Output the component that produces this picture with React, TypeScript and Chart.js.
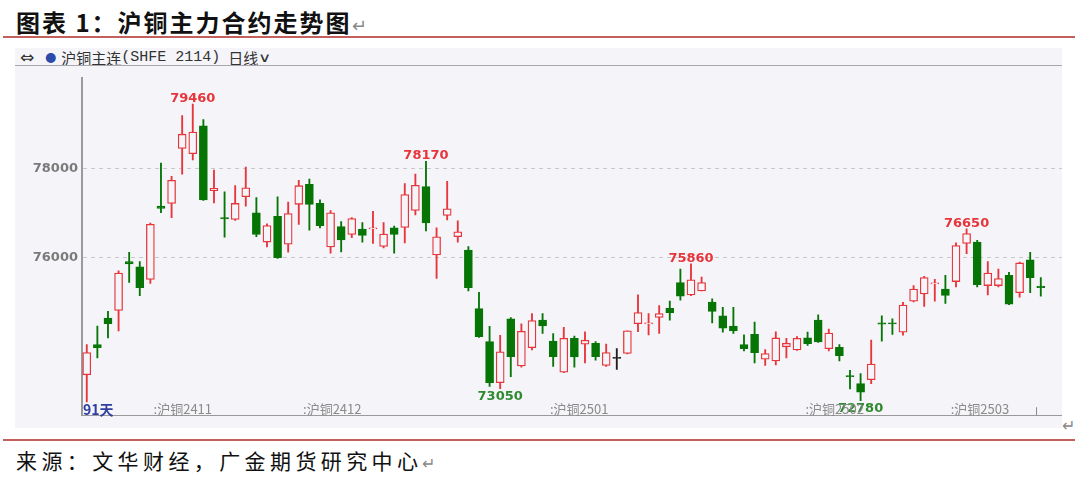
import React, { useEffect, useRef } from 'react';
import { Chart, registerables } from 'chart.js';

Chart.register(...registerables);

// 沪铜主连 日线，91 个交易日
const opens = [
  73360, 74040, 74640, 74810, 75910, 75790, 75510, 77160, 77220, 78460,
  78340, 78970, 77510, 76900, 76860, 77370, 77010, 76350, 76930, 76300,
  77200, 77650, 77220, 76240, 76700, 76520, 76640, 76650, 76250, 76670,
  76680, 77060, 77600, 76060, 76950, 76470, 76170, 74850, 74110, 73180,
  74620, 73560, 73970, 74590, 74120, 73420, 74180, 74050, 74070, 73570,
  73740, 73840, 74510, 74510, 74650, 74860, 75440, 75160, 75250, 75000,
  74690, 74460, 74040, 74270, 73710, 73670, 73990, 73920, 74190, 74590,
  73950, 73980, 73340, 73160, 73250, 74530, 74530, 74320, 75020, 75180,
  75410, 75290, 75460, 76320, 76350, 75370, 75370, 75600, 75210, 75950,
  75360,
];
const highs = [
  74040, 74460, 74790, 75700, 76120, 75910, 76780, 78130, 77830, 79200,
  79460, 79110, 77970, 77480, 77620, 78040, 77350, 76760, 77370, 77250,
  77740, 77770, 77300, 77060, 76810, 76900, 76790, 77040, 76790, 76710,
  77670, 77880, 78170, 76670, 77720, 76830, 76250, 75220, 74450, 74250,
  74650, 74510, 74740, 74740, 74290, 74430, 74230, 74330, 74110, 74050,
  73950, 74350, 75160, 74740, 74920, 75020, 75740, 75860, 75560, 75070,
  74880, 74880, 74260, 74550, 73930, 74330, 74180, 74220, 74320, 74710,
  74390, 74040, 73460, 73390, 74140, 74690, 74620, 74990, 75370, 75580,
  75510, 75600, 76330, 76650, 76390, 75910, 75740, 75670, 75900, 76120,
  75550,
];
const lows = [
  72750, 73740, 74190, 74350, 75440, 75140, 75420, 77010, 76900, 77880,
  78200, 77290, 77230, 76460, 76840, 77160, 76470, 76240, 75980, 76120,
  76750, 76620, 76670, 76100, 76130, 76450, 76350, 76320, 76220, 76100,
  76330, 76960, 76600, 75530, 76850, 76350, 75250, 74200, 73100, 73050,
  73320, 73530, 73920, 74290, 73550, 73410, 73530, 73630, 73690, 73550,
  73480, 73830, 74330, 74260, 74290, 74590, 75040, 75140, 75250, 74530,
  74320, 74290, 73900, 73630, 73570, 73580, 73740, 73910, 74020, 74090,
  73900, 73670, 73040, 72780, 73160, 74120, 74270, 74250, 75000, 74900,
  75020, 74970, 75340, 76090, 75340, 75160, 75340, 74940, 75110, 75210,
  75130,
];
const closes = [
  73860, 73970, 74510, 75650, 75860, 75320, 76750, 77110, 77740, 78780,
  78830, 77300, 77560, 76870, 77220, 77570, 76520, 76720, 76000, 76990,
  77620, 77200, 76720, 77010, 76400, 76880, 76500, 76670, 76530, 76520,
  77420, 77630, 76780, 76470, 77100, 76580, 75320, 74220, 73180, 73880,
  73770, 74340, 74580, 74460, 73770, 74180, 73760, 74140, 73770, 73860,
  73740, 74350, 74760, 74530, 74740, 74760, 75130, 75500, 75440, 74790,
  74410, 74350, 73950, 73860, 73840, 74190, 74070, 74180, 74060, 74100,
  74300, 73790, 73320, 72970, 73600, 74500, 74510, 74930, 75290, 75550,
  75430, 75150, 76270, 76540, 75390, 75650, 75530, 74950, 75880, 75550,
  75320,
];

// 标注的高点/低点（K线序号）
const peakIdx = [10, 32, 57, 83];
const troughIdx = [39, 73];

// 主力合约切换
const contractNames = ['沪铜2411', '沪铜2412', '沪铜2501', '沪铜2502', '沪铜2503', ''];
const contractAt = [6.3, 20.4, 43.7, 67.8, 81.5, 89.6];

const yTicks = [76000, 78000];

const RED = '#e6353b';
const GREEN = '#067506';
const DOJI = '#1e1e1e';
const PANEL_BG = '#f5f5f9';

const candleColor = (i: number) =>
  closes[i] > opens[i] ? RED : closes[i] < opens[i] ? GREEN : DOJI;

const markPlugin = {
  id: 'marks',
  afterDatasetsDraw(chart: any) {
    const { ctx, chartArea, scales } = chart;
    const x = scales.x;
    const y = scales.y;
    ctx.save();
    ctx.font = 'bold 13px "DejaVu Sans"';
    ctx.textAlign = 'center';
    ctx.textBaseline = 'alphabetic';
    peakIdx.forEach((i) => {
      ctx.fillStyle = RED;
      ctx.fillText(String(highs[i]), x.getPixelForValue(i), y.getPixelForValue(highs[i]) - 2);
    });
    troughIdx.forEach((i) => {
      ctx.fillStyle = '#2f8a2f';
      ctx.fillText(String(lows[i]), x.getPixelForValue(i), y.getPixelForValue(lows[i]) + 11);
    });

    // 合约切换标记
    const ly = chartArea.bottom - 6;
    ctx.textAlign = 'left';
    ctx.textBaseline = 'middle';
    contractAt.forEach((pos, k) => {
      const px = x.getPixelForValue(pos);
      if (contractNames[k]) {
        ctx.fillStyle = '#8a8a8a';
        ctx.font = '13px "Noto Sans CJK SC"';
        ctx.fillText(':' + contractNames[k], px, ly);
      } else {
        ctx.strokeStyle = '#8a8a8a';
        ctx.lineWidth = 1;
        ctx.beginPath();
        ctx.moveTo(px, chartArea.bottom - 8);
        ctx.lineTo(px, chartArea.bottom);
        ctx.stroke();
      }
    });

    ctx.fillStyle = '#2f3f9f';
    ctx.font = 'bold 14px "Noto Sans CJK SC"';
    ctx.fillText(`${opens.length}天`, chartArea.left + 1, ly);
    ctx.restore();
  },
};

const CopperChart: React.FC = () => {
  const chartRef = useRef<HTMLCanvasElement>(null);
  const chartInstance = useRef<Chart | null>(null);

  useEffect(() => {
    if (!chartRef.current) return;
    if (chartInstance.current) chartInstance.current.destroy();
    const ctx = chartRef.current.getContext('2d');
    if (!ctx) return;

    const idx = opens.map((_, i) => i);
    const colors = idx.map(candleColor);

    const bodies = idx.map((i) => {
      const lo = Math.min(opens[i], closes[i]);
      const hi = Math.max(opens[i], closes[i]);
      const pad = hi - lo < 24 ? (24 - (hi - lo)) / 2 : 0;
      return { x: i, y: [lo - pad, hi + pad] };
    });
    const wicks = idx.map((i) => ({ x: i, y: [lows[i], highs[i]] }));

    chartInstance.current = new Chart(ctx, {
      type: 'bar',
      data: {
        datasets: [
          {
            label: 'body',
            data: bodies as any,
            backgroundColor: idx.map((i) => (closes[i] > opens[i] ? PANEL_BG : colors[i])),
            borderColor: colors,
            borderWidth: 1.3,
            borderSkipped: false,
            barThickness: 8,
            grouped: false,
          },
          {
            label: 'wick',
            data: wicks as any,
            backgroundColor: colors,
            borderWidth: 0,
            barThickness: 1.2,
            grouped: false,
          },
        ],
      },
      options: {
        animation: false,
        responsive: true,
        maintainAspectRatio: false,
        layout: { padding: 0 },
        plugins: {
          legend: { display: false },
          tooltip: { enabled: false },
        },
        scales: {
          x: {
            type: 'linear',
            offset: false,
            min: -0.45,
            max: 92,
            grid: { display: false, drawTicks: false },
            ticks: { display: false },
            border: { display: true, color: '#9a9a9a', width: 1 },
          },
          y: {
            min: 72450,
            max: 80050,
            afterFit: (scale: any) => {
              scale.width = 67;
            },
            afterBuildTicks: (scale: any) => {
              scale.ticks = yTicks.map((v) => ({ value: v }));
            },
            grid: {
              color: '#c8c8cc',
              drawTicks: false,
            },
            border: { display: true, color: '#9a9a9a', width: 2, dash: [4, 4] },
            ticks: {
              padding: 4,
              color: '#7a7a7a',
              font: { family: 'DejaVu Sans', size: 13, weight: 'bold' },
              callback: (v: any) => String(v),
            },
          },
        },
      },
      plugins: [markPlugin],
    });

    return () => {
      if (chartInstance.current) {
        chartInstance.current.destroy();
        chartInstance.current = null;
      }
    };
  }, []);

  return <canvas ref={chartRef}></canvas>;
};

export default function App() {
  return (
    <div
      style={{
        position: 'fixed',
        left: 0,
        top: 0,
        width: 1080,
        height: 480,
        background: '#ffffff',
        overflow: 'hidden',
        fontFamily: '"Noto Sans CJK SC", sans-serif',
      }}
    >
      {/* 标题 */}
      <div
        style={{
          position: 'absolute',
          left: 16,
          top: 6,
          fontSize: 24,
          fontWeight: 700,
          letterSpacing: 2,
          color: '#111',
          lineHeight: '32px',
          whiteSpace: 'nowrap',
        }}
      >
        图表 1：沪铜主力合约走势图<span style={{ fontWeight: 400, color: '#888', fontSize: 18 }}>↵</span>
      </div>
      <div style={{ position: 'absolute', left: 3, top: 36, width: 1072, height: 2, background: '#c2605c' }} />

      {/* 图表面板 */}
      <div style={{ position: 'absolute', left: 15, top: 48, width: 1047, height: 380, background: PANEL_BG }} />
      <div
        style={{
          position: 'absolute',
          left: 20,
          top: 48,
          height: 18,
          display: 'flex',
          alignItems: 'center',
          fontSize: 15,
          color: '#333',
          whiteSpace: 'nowrap',
        }}
      >
        <span style={{ fontFamily: '"DejaVu Sans"', fontSize: 17, marginRight: 11 }}>⇔</span>
        <span style={{ color: '#2c4aa8', fontSize: 11, marginRight: 5 }}>●</span>
        <span>沪铜主连</span>
        <span style={{ fontFamily: '"Liberation Mono"', fontSize: 15 }}>(SHFE 2114)</span>
        <span style={{ marginLeft: 8 }}>日线</span>
        <span style={{ fontFamily: '"DejaVu Sans"', fontSize: 13, marginLeft: 2, transform: 'scaleX(1.4)' }}>∨</span>
      </div>
      <div style={{ position: 'absolute', left: 15, top: 65, width: 1047, height: 1, background: '#a8a8ac' }} />
      <div style={{ position: 'absolute', left: 15, top: 66, width: 1047, height: 361 }}>
        <CopperChart />
      </div>

      <div style={{ position: 'absolute', left: 3, top: 439, width: 1072, height: 1.5, background: '#c2605c' }} />
      <div
        style={{
          position: 'absolute',
          left: 16,
          top: 446,
          fontSize: 21,
          letterSpacing: 4.4,
          color: '#111',
          lineHeight: '28px',
          whiteSpace: 'nowrap',
        }}
      >
        来源：文华财经，广金期货研究中心<span style={{ color: '#888', fontSize: 16 }}>↵</span>
      </div>
      <div style={{ position: 'absolute', left: 1062, top: 412, fontSize: 16, color: '#888' }}>↵</div>
    </div>
  );
}
